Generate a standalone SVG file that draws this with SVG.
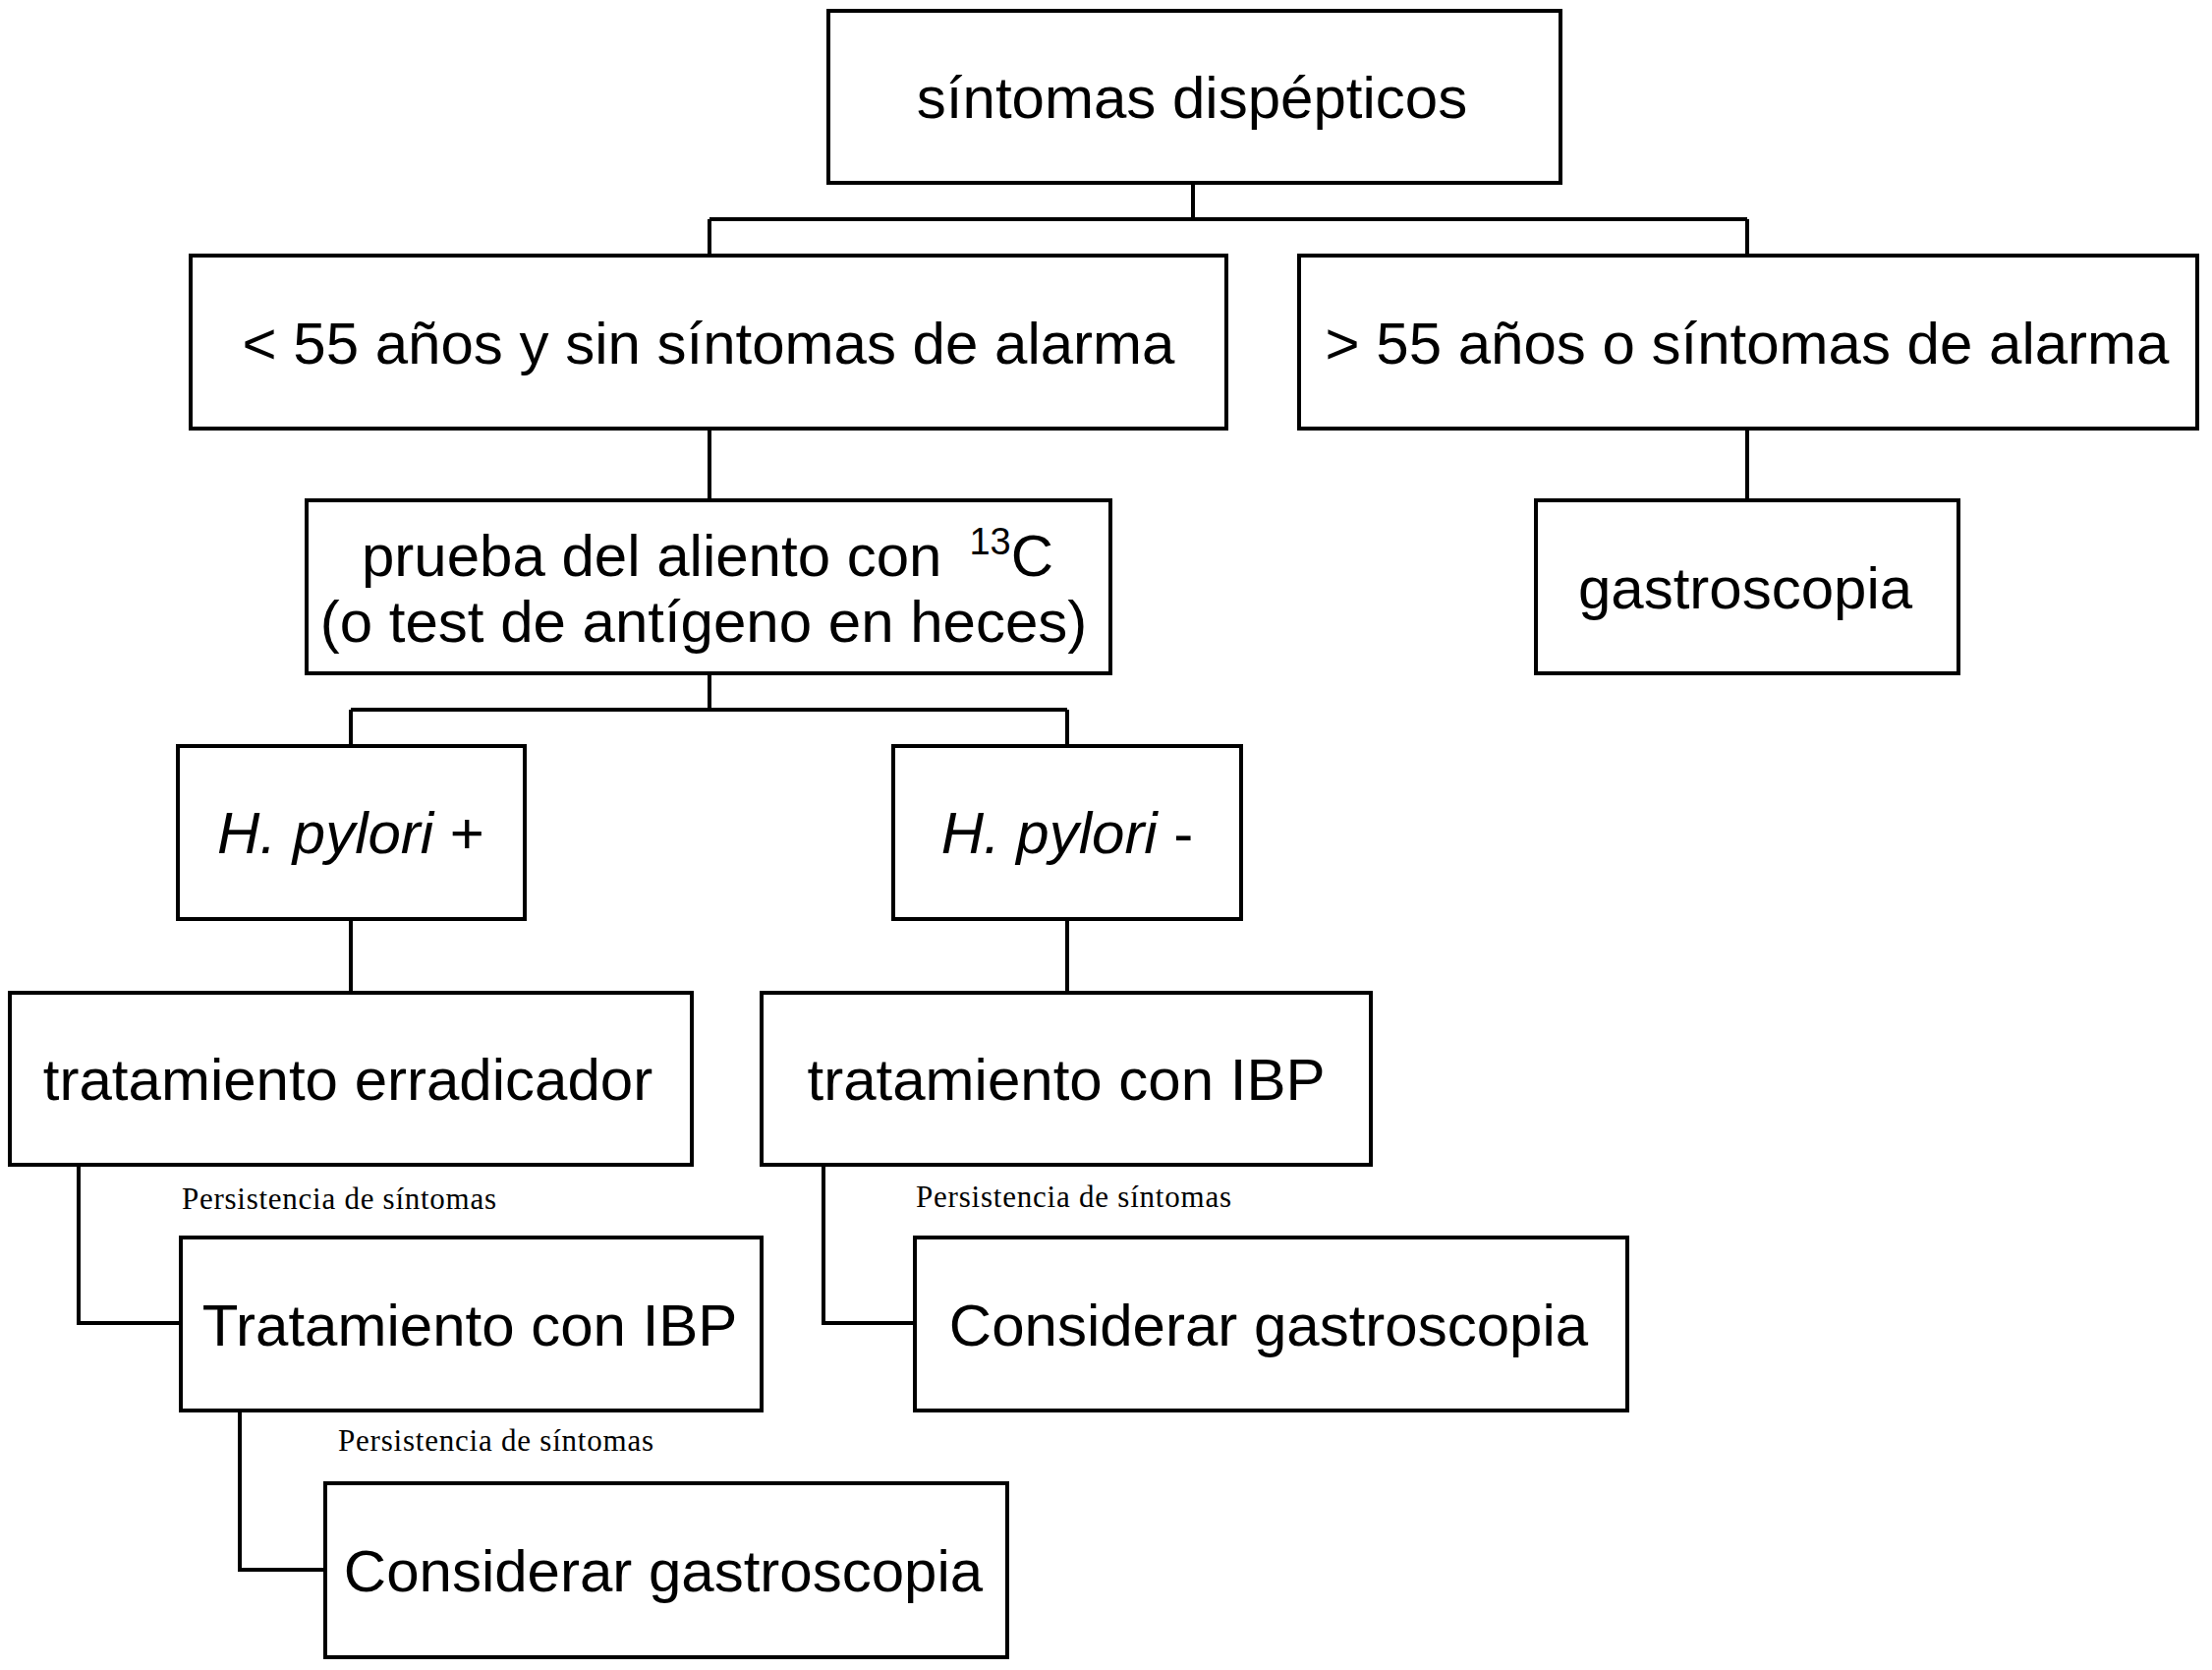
<svg xmlns="http://www.w3.org/2000/svg" width="2251" height="1699" viewBox="0 0 2251 1699">
<style>
.box{fill:#fff;stroke:#000;stroke-width:4}
.t{font-family:"Liberation Sans",Arial,sans-serif;font-size:60px;fill:#000;text-anchor:middle}
.it{font-style:italic}
.lbl{font-family:"Liberation Serif","Times New Roman",serif;font-size:31px;fill:#000}
.c{fill:none;stroke:#000;stroke-width:4}
</style>
<rect width="2251" height="1699" fill="#fff"/>
<g id="connectors">
<path class="c" d="M1214,186 V223 M722,223 H1778 M722,223 V260 M1778,223 V260"/>
<path class="c" d="M722,436 V509"/>
<path class="c" d="M1778,436 V509"/>
<path class="c" d="M722,685 V722 M357,722 H1086 M357,722 V759 M1086,722 V759"/>
<path class="c" d="M357,935 V1010"/>
<path class="c" d="M1086,935 V1010"/>
<path class="c" d="M80,1185 V1346 H184"/>
<path class="c" d="M244,1435 V1597 H331"/>
<path class="c" d="M838,1185 V1346 H931"/>
<text class="lbl" x="185" y="1230" textLength="320" lengthAdjust="spacing">Persistencia de síntomas</text>
<text class="lbl" x="344" y="1476" textLength="321" lengthAdjust="spacing">Persistencia de síntomas</text>
<text class="lbl" x="932" y="1228" textLength="321" lengthAdjust="spacing">Persistencia de síntomas</text>
</g>
<g id="n1"><rect class="box" x="843" y="11" width="745" height="175"/><text class="t" x="1213" y="120">síntomas dispépticos</text></g>
<g id="n2"><rect class="box" x="194" y="260" width="1054" height="176"/><text class="t" x="721" y="370">&lt; 55 años y sin síntomas de alarma</text></g>
<g id="n3"><rect class="box" x="1322" y="260" width="914" height="176"/><text class="t" x="1778" y="370">&gt; 55 años o síntomas de alarma</text></g>
<g id="n4"><rect class="box" x="312" y="509" width="818" height="176"/><text class="t" x="720" y="586">prueba del aliento con<tspan dx="28" dy="-22" font-size="38">13</tspan><tspan dy="22">C</tspan></text><text class="t" x="716" y="653">(o test de antígeno en heces)</text></g>
<g id="n5"><rect class="box" x="1563" y="509" width="430" height="176"/><text class="t" x="1776" y="619">gastroscopia</text></g>
<g id="n6"><rect class="box" x="181" y="759" width="353" height="176"/><text class="t" x="357" y="868" font-size="57"><tspan class="it">H. pylori</tspan> +</text></g>
<g id="n7"><rect class="box" x="909" y="759" width="354" height="176"/><text class="t" x="1086" y="868" font-size="57"><tspan class="it">H. pylori</tspan> -</text></g>
<g id="n8"><rect class="box" x="10" y="1010" width="694" height="175"/><text class="t" x="354" y="1119">tratamiento erradicador</text></g>
<g id="n9"><rect class="box" x="775" y="1010" width="620" height="175"/><text class="t" x="1085" y="1119">tratamiento con IBP</text></g>
<g id="n10"><rect class="box" x="184" y="1259" width="591" height="176"/><text class="t" x="478" y="1369">Tratamiento con IBP</text></g>
<g id="n11"><rect class="box" x="331" y="1509" width="694" height="177"/><text class="t" x="675" y="1619">Considerar gastroscopia</text></g>
<g id="n12"><rect class="box" x="931" y="1259" width="725" height="176"/><text class="t" x="1291" y="1369">Considerar gastroscopia</text></g>
</svg>
